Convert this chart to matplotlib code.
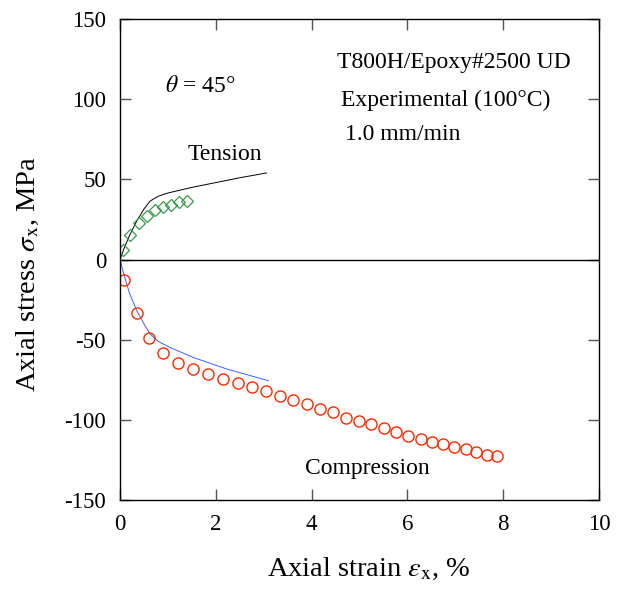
import matplotlib.pyplot as plt

plt.rcParams['font.family'] = ['Liberation Serif', 'DejaVu Serif']
plt.rcParams['mathtext.fontset'] = 'stix'
plt.rcParams['axes.unicode_minus'] = False

# tension: experiment (diamonds) and analysis (line)
ten_x = [0.06, 0.22, 0.40, 0.56, 0.73, 0.89, 1.06, 1.24, 1.40]
ten_y = [6.0, 15.6, 22.6, 27.2, 30.6, 32.6, 34.1, 35.7, 36.4]
ten_line_x = [0, 0.1, 0.2, 0.35, 0.5, 0.63, 0.8, 1.0, 1.5, 2.0, 2.5, 3.06]
ten_line_y = [0, 8, 15, 24, 31.5, 36.5, 39.5, 41.5, 45, 48, 51, 54]

# compression: experiment (circles) and analysis (line)
comp_x = [0.08, 0.36, 0.61, 0.90, 1.21, 1.52, 1.84, 2.16, 2.46, 2.76, 3.05, 3.34,
          3.62, 3.90, 4.18, 4.45, 4.72, 4.99, 5.24, 5.51, 5.76, 6.02, 6.28, 6.51,
          6.75, 6.98, 7.22, 7.43, 7.66, 7.86]
comp_y = [-12.5, -33.5, -48.9, -58.2, -64.5, -68.2, -71.3, -74.2, -77.2, -79.7,
          -82.2, -85.3, -87.8, -90.3, -93.0, -95.0, -98.6, -100.6, -102.7, -105.2,
          -107.3, -110.0, -112.1, -113.4, -115.0, -117.1, -117.9, -120.0, -121.6, -122.5]
comp_line_x = [0, 0.1, 0.2, 0.35, 0.5, 0.63, 0.8, 1.04, 1.53, 2.23, 3.10]
comp_line_y = [0, -11, -21, -31.8, -40, -46.4, -51, -54.7, -61, -68.2, -75.5]

fig = plt.figure(figsize=(6.38, 5.92), dpi=100)
ax = fig.add_axes([0.188, 0.155, 0.751, 0.813])

ax.axhline(0, color='black', lw=1)
ax.plot(ten_line_x, ten_line_y, color='black', lw=0.7)
ax.plot(comp_line_x, comp_line_y, color='#4060ff', lw=0.7)
ax.plot(ten_x, ten_y, linestyle='none', marker='D', markersize=6.5,
        markerfacecolor='none', markeredgecolor='#3a9a4a', markeredgewidth=0.9)
ax.plot(comp_x, comp_y, linestyle='none', marker='o', markersize=8,
        markerfacecolor='none', markeredgecolor='#ff2a00', markeredgewidth=1.0)

ax.set_xlim(0, 10)
ax.set_ylim(-150, 150)
ax.set_xticks([0, 2, 4, 6, 8, 10])
ax.set_yticks([-150, -100, -50, 0, 50, 100, 150])
ax.tick_params(direction='in', length=8, width=1, labelsize=16.5, pad=10,
               top=True, right=True, color='#555555')
for s in ax.spines.values():
    s.set_linewidth(1)

ax.set_xlabel(r'Axial strain $\varepsilon_{\rm x}$, %', fontsize=20.5)
ax.set_ylabel(r'Axial stress $\sigma_{\rm x}$, MPa', fontsize=20.5)
ax.xaxis.set_label_coords(0.519, -0.115)
ax.yaxis.set_label_coords(-0.165, 0.47)

ax.text(0.94, 108, r'$\theta$ = 45°', fontsize=17, va='center')
ax.text(4.53, 123, 'T800H/Epoxy#2500 UD', fontsize=17, va='center')
ax.text(4.61, 99, 'Experimental (100°C)', fontsize=17, va='center')
ax.text(4.70, 78, '1.0 mm/min', fontsize=17, va='center')
ax.text(1.42, 65.5, 'Tension', fontsize=17, va='center')
ax.text(3.86, -130.4, 'Compression', fontsize=17, va='center')

fig.savefig('out.png', dpi=100)
